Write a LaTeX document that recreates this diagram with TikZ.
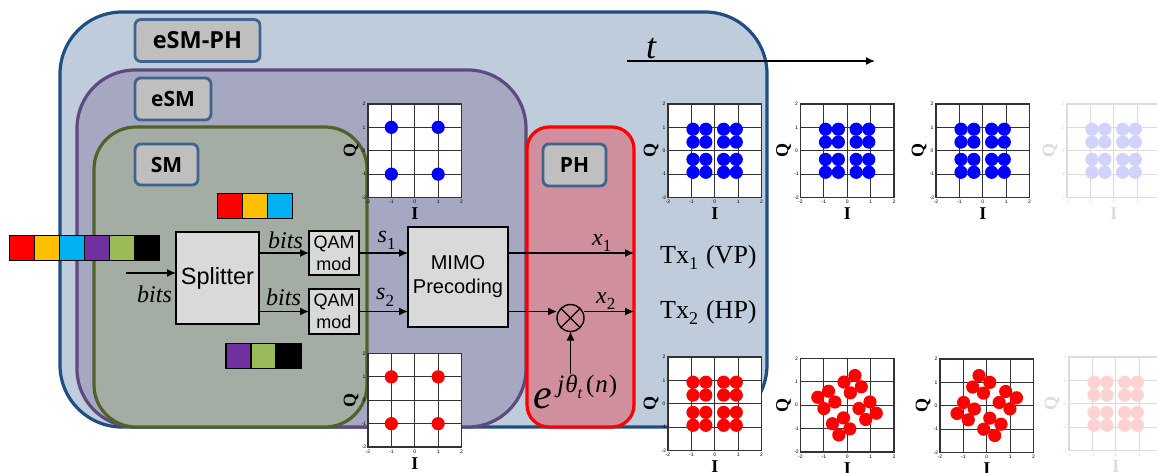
\documentclass[tikz,border=0pt]{standalone}
\usepackage{fontspec}
\setmainfont{Liberation Serif}
\newfontfamily\arialf{Liberation Sans}
\newfontfamily\calib{Open Sans}
\usetikzlibrary{arrows.meta}
\definecolor{outerfill}{HTML}{BFCCDC}
\definecolor{outerline}{HTML}{1F4E82}
\definecolor{esmfill}{HTML}{A6A8C2}
\definecolor{esmline}{HTML}{5F4A80}
\definecolor{smfill}{HTML}{A3ADA3}
\definecolor{smline}{HTML}{4F6228}
\definecolor{phfill}{HTML}{CF8F9C}
\definecolor{tagfill}{HTML}{BFBFBF}
\definecolor{tagline}{HTML}{41648F}
\definecolor{blockfill}{HTML}{D9D9D9}
\definecolor{cred}{HTML}{FF0000}
\definecolor{cyellow}{HTML}{FFC000}
\definecolor{ccyan}{HTML}{00B0F0}
\definecolor{cpurple}{HTML}{7030A0}
\definecolor{cgreen}{HTML}{9BBB59}
\definecolor{fadeblue}{HTML}{D2D2FF}
\definecolor{fadered}{HTML}{FFD2D2}
\definecolor{fadeaxis}{HTML}{DCDCDC}
\tikzset{
  x=1pt,y=-1pt,
  region/.style={draw,line width=3.2pt,inner sep=0pt,outer sep=0pt,anchor=north west},
  tagbox/.style={draw=tagline,fill=tagfill,line width=2.8pt,rounded corners=6pt,inner sep=0pt,outer sep=0pt,anchor=north west,font=\calib\bfseries\fontsize{21}{23}\selectfont},
  block/.style={draw=black,fill=blockfill,line width=1.5pt,inner sep=0pt,outer sep=0pt,anchor=north west,align=center},
  cell/.style={draw=black,line width=1.5pt,minimum width=25pt,minimum height=25pt,inner sep=0pt,outer sep=0pt,anchor=north west},
  arr/.style={-{Latex[length=9pt,width=8pt]},line width=1.4pt,black},
  lab/.style={inner sep=0pt,anchor=base west,font=\fontsize{24}{26}\selectfont\itshape},
  txlab/.style={inner sep=0pt,anchor=base west,font=\fontsize{26}{28}\selectfont},
  tick/.style={inner sep=0pt,font=\arialf\fontsize{5}{6}\selectfont},
  axlab/.style={inner sep=0pt,font=\bfseries\fontsize{18}{20}\selectfont},
}
% #1 name, #2 x, #3 y, #4 axis colour, #5 text colour, #6 dot colour, #7 point list
\newcommand{\iqplot}[7]{%
  \begin{scope}[shift={(#2,#3)}]
    \fill[white] (0,0) rectangle (93.5,93.5);
    \foreach \gg in {23.4,46.75,70.1}{
      \draw[#4,line width=0.9pt] (\gg,0) -- (\gg,93.5);
      \draw[#4,line width=0.9pt] (0,\gg) -- (93.5,\gg);
    }
    \foreach \px/\py in #7{
      \fill[#6] ({46.75+23.4*\px},{46.75-23.4*\py}) circle (6.6pt);
    }
    \draw[#4,line width=1.4pt] (0,0) rectangle (93.5,93.5);
    \foreach \vv/\nn in {-2/a,-1/b,0/c,1/d,2/e}{
      \node[tick,text=#5] (#1x\nn) at ({46.75+23.4*\vv},98) {\vv};
      \node[tick,text=#5] (#1y\nn) at (-4,{46.75-23.4*\vv}) {\vv};
    }
    \node[axlab,text=#5,rotate=90] (#1Q) at (-17,46.75) {Q};
    \node[axlab,text=#5] (#1I) at (46.75,110) {I};
  \end{scope}%
}
\newcommand{\qamsix}{-0.93/0.92,-0.38/0.92,0.38/0.92,0.92/0.92,-0.93/0.37,-0.38/0.37,0.38/0.37,0.92/0.37,-0.93/-0.37,-0.38/-0.37,0.38/-0.37,0.92/-0.37,-0.93/-0.92,-0.38/-0.92,0.38/-0.92,0.92/-0.92}
\begin{document}
\begin{tikzpicture}
\useasboundingbox (0,0) rectangle (1157,472);
\clip (0,0) rectangle (1157,472);
\fill[white] (0,0) rectangle (1157,472);
% regions
\node[region,draw=outerline,fill=outerfill,rounded corners=62pt,minimum width=707pt,minimum height=415pt] (outer) at (60,12) {};
\node[region,draw=esmline,fill=esmfill,rounded corners=58pt,minimum width=449pt,minimum height=357pt] (esm) at (77,70) {};
\node[region,draw=smline,fill=smfill,rounded corners=42pt,minimum width=273pt,minimum height=300pt] (sm) at (94,127) {};
\node[region,draw=red,fill=phfill,rounded corners=22pt,minimum width=107pt,minimum height=300pt] (ph) at (527,127) {};
% tags
\node[tagbox,minimum width=125pt,minimum height=42pt,font=\calib\bfseries\fontsize{23.5}{25}\selectfont] (t1) at (135,19.5) {eSM-PH};
\node[tagbox,minimum width=76pt,minimum height=42pt] (t2) at (135,78) {eSM};
\node[tagbox,minimum width=63pt,minimum height=41pt] (t3) at (135,144) {SM};
\node[tagbox,minimum width=63pt,minimum height=42pt] (t4) at (543,144) {PH};
% plots
\iqplot{pa}{368}{104}{black!80}{black}{blue}{{-1/1,1/1,-1/-1,1/-1}}
\iqplot{pb}{368}{353.5}{black!80}{black}{red}{{-1/1,1/1,-1/-1,1/-1}}
\iqplot{pc}{668}{104}{black!80}{black}{blue}{\qamsix}
\iqplot{pd}{800.5}{104}{black!80}{black}{blue}{\qamsix}
\iqplot{pe}{936}{104}{black!80}{black}{blue}{\qamsix}
\iqplot{pf}{1067}{104}{fadeaxis}{fadeaxis}{fadeblue}{\qamsix}
\iqplot{pg}{668}{357}{black!80}{black}{red}{\qamsix}
\iqplot{ph0}{800.5}{358.5}{black!80}{black}{red}{{.33/1.27,-.14/.99,.6/.79,.13/.53,-.8/.6,-1.26/.34,-.53/.14,-1/-.14,.97/.14,.5/-.14,1.24/-.34,.79/-.61,-.16/-.54,-.63/-.79,.11/-1.01,-.36/-1.27}}
\iqplot{pi}{940}{359}{black!80}{black}{red}{{-.33/1.29,.13/1,-.6/.8,-.14/.54,.81/.61,1.27/.34,.53/.14,.99/-.13,-.99/.14,-.53/-.14,-1.27/-.33,-.79/-.6,.13/-.53,.61/-.79,-.13/-1,.34/-1.27}}
\iqplot{pj}{1069}{357}{fadeaxis}{fadeaxis}{fadered}{\qamsix}
% colour bars
\foreach \cc/\xx/\nn in {cred/9.5/1,cyellow/34.5/2,ccyan/59.5/3,cpurple/84.5/4,cgreen/109.5/5,black/134.5/6}{
  \node[cell,fill=\cc] (ba\nn) at (\xx,235.5) {};
}
\foreach \cc/\xx/\nn in {cred/217.5/1,cyellow/242.5/2,ccyan/267.5/3}{
  \node[cell,fill=\cc] (bb\nn) at (\xx,193.5) {};
}
\foreach \cc/\xx/\nn in {cpurple/226/1,cgreen/251/2,black/276/3}{
  \node[cell,fill=\cc] (bc\nn) at (\xx,343.5) {};
}
% blocks
\node[block,minimum width=83pt,minimum height=92pt,font=\arialf\fontsize{23.5}{26}\selectfont] (split) at (176,232) {Splitter};
\node[block,minimum width=50pt,minimum height=44pt,font=\arialf\fontsize{18}{22}\selectfont] (qam1) at (309,231) {QAM\\mod};
\node[block,minimum width=50pt,minimum height=45pt,font=\arialf\fontsize{18}{22}\selectfont] (qam2) at (309,289) {QAM\\mod};
\node[block,minimum width=100pt,minimum height=100pt,font=\arialf\fontsize{20}{24}\selectfont] (mimo) at (408,227) {MIMO\\Precoding};
\node[draw=black,line width=1.4pt,circle,minimum size=27pt,inner sep=0pt,outer sep=0pt] (mult) at (570.5,318) {};
\draw[black,line width=1.2pt] (mult.north west) -- (mult.south east) (mult.north east) -- (mult.south west);
% connectors
\coordinate (inA) at (126,273);
\coordinate (phaseTop) at (570.5,374);
\coordinate (tA) at (627,61);
\coordinate (tB) at (875,61);
\draw[arr] (inA) -- (split.west |- inA);
\draw[arr] (split.east |- qam1.west) -- (qam1.west);
\draw[arr] (split.east |- qam2.west) -- (qam2.west);
\draw[arr] (qam1.east) -- (mimo.west |- qam1.east);
\draw[arr] (qam2.east) -- (mimo.west |- qam2.east);
\draw[arr] (mimo.east |- qam1.east) -- (ph.east |- qam1.east);
\draw[arr] (mimo.east |- qam2.east) -- (mult.west |- qam2.east);
\draw[arr] (mult.east |- qam2.east) -- (ph.east |- qam2.east);
\draw[arr] (phaseTop) -- (mult.south);
\draw[arr] (tA) -- (tB);
% labels
\node[lab] (b1) at (137,302) {bits};
\node[lab] (b2) at (268,248) {bits};
\node[lab] (b3) at (266,305) {bits};
\node[lab] (s1) at (377.5,242) {s\raisebox{-7pt}{\upshape\fontsize{17}{18}\selectfont 1}};
\node[lab] (s2) at (376,299) {s\raisebox{-7pt}{\upshape\fontsize{17}{18}\selectfont 2}};
\node[lab] (x1) at (592,245) {x\raisebox{-6pt}{\upshape\fontsize{17}{18}\selectfont 1}};
\node[lab] (x2) at (596,303) {x\raisebox{-6pt}{\upshape\fontsize{17}{18}\selectfont 2}};
\node[txlab] (tx1) at (660,263) {Tx\raisebox{-6pt}{\fontsize{18}{18}\selectfont 1}\kern8pt(VP)};
\node[txlab] (tx2) at (660,318) {Tx\raisebox{-6pt}{\fontsize{18}{18}\selectfont 2}\kern8pt(HP)};
\node[lab,font=\fontsize{36}{38}\selectfont\itshape] (tl) at (646,58) {t};
\node[lab,font=\fontsize{42}{44}\selectfont\itshape] (phase) at (533.5,408) {e\kern5pt\raisebox{16pt}{\fontsize{25}{26}\selectfont j\kern1pt θ\raisebox{-6pt}{\fontsize{16}{18}\selectfont t}\kern4pt\upshape(\kern1pt\itshape n\kern1pt\upshape)}};
\end{tikzpicture}
\end{document}
